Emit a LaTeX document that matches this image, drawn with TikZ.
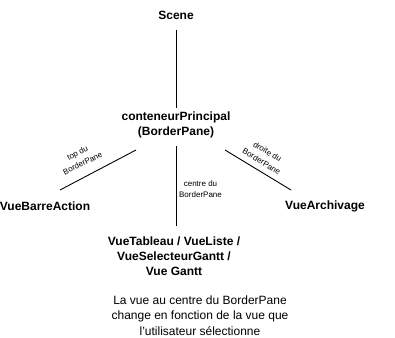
\documentclass[tikz,border=0pt]{standalone}
\usepackage{fontspec}
\setmainfont{Liberation Sans}
\begin{document}
\begin{tikzpicture}[x=1pt,y=-1pt,
  box/.style={font=\fontsize{12}{15}\selectfont\bfseries, align=center, inner sep=0pt},
  tag/.style={font=\fontsize{8}{11.5}\selectfont, align=center, inner sep=0pt},
  note/.style={font=\fontsize{12}{15.5}\selectfont, align=center, inner sep=0pt},
  link/.style={draw=black, line width=0.9pt}]
\useasboundingbox (0,0) rectangle (395,337);
\fill[white] (0,0) rectangle (395,337);

% scene graph nodes
\node[box] (scene) at (176,15) {Scene};
\node[box] (cp) at (176,124.5) {conteneurPrincipal\\(BorderPane)};
\node[box] (bar) at (45,206) {VueBarreAction};
\node[box] (arch) at (325,206) {VueArchivage};
\node[box] (centre) at (174,256) {VueTableau / VueListe /\\VueSelecteurGantt /\\Vue Gantt};

% end points of the links
\coordinate (tl) at (136,150);
\coordinate (bl) at (60,190);
\coordinate (tr) at (225,150);
\coordinate (br) at (291,190);
\coordinate (s1) at (176,30);
\coordinate (s2) at (176,108);
\coordinate (c1) at (176,146);
\coordinate (c2) at (176,226);

\draw[link] (s1) -- (s2);
\draw[link] (c1) -- (c2);
\draw[link] (tl) -- (bl);
\draw[link] (tr) -- (br);

% link labels
\node[tag, rotate=27] (ltop) at (80,158) {top du\\BorderPane};
\node[tag, rotate=-31] (ldroite) at (264.5,156.5) {droite du\\BorderPane};
\node[tag] (lcentre) at (200.5,189) {centre du\\BorderPane};

% explanatory note
\node[note] (info) at (200,315.5) {La vue au centre du BorderPane\\change en fonction de la vue que\\l'utilisateur sélectionne};
\end{tikzpicture}
\end{document}
